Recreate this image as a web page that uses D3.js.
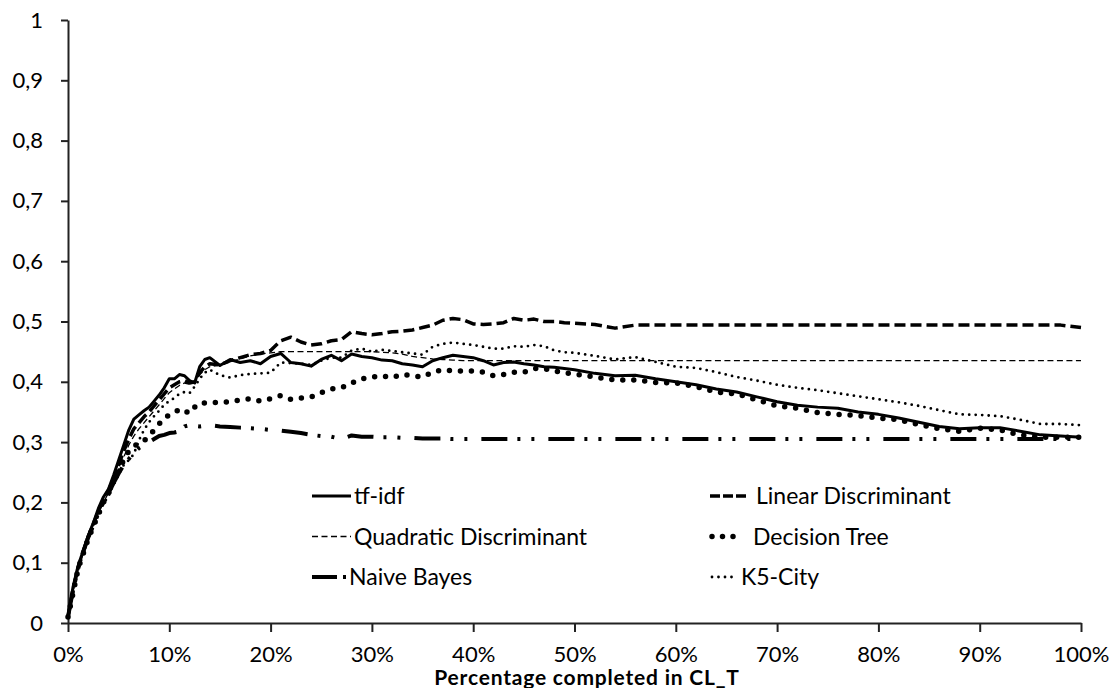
<!DOCTYPE html>
<html>
<head>
<meta charset="utf-8">
<script src="https://d3js.org/d3.v7.min.js"></script>
<style>
  body { margin: 0; background: #fff; }
  text { font-family: Lato, "Open Sans", sans-serif; fill: #000; }
</style>
</head>
<body>
<div id="chart"></div>
<script>

// x positions (percentage completed in CL_T), shared by every series
var pct = [0,0.5,1,1.5,2,2.5,3,3.5,4,4.5,5,5.5,6,6.5,7,7.5,8,8.5,9,9.5,10,10.5,11,11.5,12,12.5,13,13.5,14,
  15,16,17,18,19,20,21,22,23,24,25,26,27,28,29,30,31,32,33,34,35,36,37,38,39,40,41,42,43,44,45,46,47,48,49,50,
  52,54,56,58,60,62,64,66,68,70,72,74,76,78,80,82,84,86,88,90,92,94,96,98,100];

var tfidf = [0.01,0.06,0.095,0.12,0.145,0.166,0.19,0.209,0.222,0.245,0.27,0.295,0.32,0.338,0.345,0.352,0.358,0.368,0.378,0.39,0.405,0.405,0.412,0.41,0.402,0.398,0.425,0.437,0.44,
  0.427,0.437,0.432,0.435,0.43,0.442,0.447,0.432,0.43,0.426,0.437,0.444,0.435,0.446,0.442,0.44,0.436,0.435,0.43,0.428,0.425,0.435,0.44,0.444,0.442,0.44,0.435,0.428,0.432,0.433,0.43,0.428,0.425,0.424,0.422,0.42,
  0.414,0.41,0.411,0.405,0.4,0.395,0.388,0.383,0.375,0.367,0.361,0.358,0.356,0.35,0.346,0.34,0.333,0.326,0.322,0.324,0.324,0.318,0.312,0.31,0.308];

var linearDisc = [0.01,0.055,0.092,0.118,0.143,0.164,0.186,0.205,0.22,0.24,0.262,0.285,0.305,0.322,0.332,0.342,0.35,0.36,0.37,0.38,0.39,0.395,0.4,0.402,0.398,0.4,0.415,0.425,0.43,
  0.428,0.435,0.44,0.445,0.447,0.452,0.468,0.474,0.466,0.461,0.463,0.468,0.47,0.483,0.48,0.478,0.48,0.483,0.484,0.486,0.49,0.494,0.502,0.505,0.503,0.496,0.495,0.496,0.498,0.505,0.502,0.504,0.5,0.5,0.498,0.497,
  0.495,0.489,0.494,0.494,0.494,0.494,0.494,0.494,0.494,0.494,0.494,0.494,0.494,0.494,0.494,0.494,0.494,0.494,0.494,0.494,0.494,0.494,0.494,0.494,0.49];

var quadDisc = [0.01,0.052,0.088,0.115,0.14,0.16,0.182,0.2,0.216,0.235,0.255,0.275,0.295,0.31,0.322,0.332,0.342,0.352,0.362,0.372,0.382,0.388,0.394,0.398,0.396,0.4,0.412,0.42,0.425,
  0.428,0.433,0.438,0.443,0.446,0.448,0.45,0.45,0.45,0.45,0.45,0.45,0.45,0.45,0.45,0.45,0.449,0.448,0.446,0.442,0.44,0.438,0.437,0.436,0.435,0.435,0.435,0.435,0.435,0.435,0.435,0.435,0.435,0.435,0.435,0.435,
  0.435,0.435,0.435,0.435,0.435,0.435,0.435,0.435,0.435,0.435,0.435,0.435,0.435,0.435,0.435,0.435,0.435,0.435,0.435,0.435,0.435,0.435,0.435,0.435,0.435];

var decisionTree = [0.01,0.05,0.09,0.115,0.14,0.16,0.18,0.2,0.215,0.235,0.255,0.27,0.285,0.292,0.3,0.302,0.31,0.32,0.33,0.34,0.345,0.348,0.355,0.352,0.348,0.358,0.365,0.365,0.365,
  0.366,0.367,0.37,0.372,0.368,0.372,0.377,0.371,0.373,0.375,0.382,0.388,0.39,0.398,0.405,0.408,0.41,0.407,0.412,0.41,0.408,0.416,0.42,0.418,0.418,0.418,0.416,0.41,0.412,0.416,0.416,0.422,0.422,0.418,0.415,0.413,
  0.408,0.403,0.403,0.399,0.398,0.392,0.383,0.38,0.37,0.36,0.356,0.349,0.346,0.344,0.34,0.337,0.329,0.322,0.318,0.323,0.32,0.312,0.308,0.308,0.308];

var naiveBayes = [0.01,0.055,0.09,0.118,0.142,0.162,0.182,0.2,0.215,0.232,0.248,0.262,0.272,0.282,0.29,0.295,0.3,0.305,0.31,0.312,0.315,0.316,0.318,0.326,0.328,0.327,0.326,0.327,0.328,
  0.326,0.325,0.324,0.323,0.322,0.32,0.319,0.317,0.315,0.312,0.31,0.309,0.305,0.311,0.309,0.309,0.308,0.308,0.307,0.307,0.306,0.306,0.306,0.305,0.305,0.305,0.305,0.305,0.305,0.305,0.305,0.305,0.305,0.305,0.305,0.305,
  0.305,0.305,0.305,0.305,0.305,0.305,0.305,0.305,0.305,0.305,0.305,0.305,0.305,0.305,0.305,0.305,0.305,0.305,0.305,0.305,0.305,0.305,0.305,0.305,0.305];

var k5City = [0.01,0.05,0.09,0.115,0.14,0.16,0.18,0.198,0.21,0.23,0.245,0.262,0.27,0.28,0.303,0.32,0.333,0.343,0.352,0.362,0.368,0.373,0.38,0.383,0.381,0.392,0.405,0.415,0.42,
  0.411,0.407,0.411,0.413,0.414,0.415,0.432,0.431,0.43,0.428,0.435,0.44,0.44,0.452,0.455,0.45,0.453,0.451,0.449,0.447,0.445,0.458,0.463,0.465,0.463,0.461,0.458,0.455,0.455,0.459,0.458,0.461,0.459,0.452,0.449,0.448,
  0.443,0.437,0.441,0.433,0.425,0.423,0.416,0.408,0.402,0.395,0.39,0.386,0.381,0.376,0.371,0.366,0.36,0.353,0.346,0.345,0.343,0.337,0.33,0.33,0.328];

var yTicks = [0,0.1,0.2,0.3,0.4,0.5,0.6,0.7,0.8,0.9,1];
var xTicks = [0,10,20,30,40,50,60,70,80,90,100];

// set the dimensions and margins of the graph
var margin = {top: 20, right: 30, bottom: 65, left: 68},
    width = 1111 - margin.left - margin.right,
    height = 688 - margin.top - margin.bottom;

var svg = d3.select("#chart")
  .append("svg")
    .attr("width", width + margin.left + margin.right)
    .attr("height", height + margin.top + margin.bottom)
  .append("g")
    .attr("transform", "translate(" + margin.left + "," + margin.top + ")");

var x = d3.scaleLinear().domain([0, 100]).range([0, width]);
var y = d3.scaleLinear().domain([0, 1]).range([height, 0]);

// axes
var xAxis = svg.append("g")
  .attr("transform", "translate(0," + height + ")")
  .call(d3.axisBottom(x).tickValues(xTicks).tickSize(9).tickSizeOuter(0).tickPadding(14)
    .tickFormat(function(d) { return d + "%"; }));

var yAxis = svg.append("g")
  .call(d3.axisLeft(y).tickValues(yTicks).tickSize(7).tickSizeOuter(0).tickPadding(18)
    .tickFormat(function(d) { return String(d).replace(".", ","); }));

[xAxis, yAxis].forEach(function(a) {
  a.selectAll("path, line").attr("stroke", "#222").attr("stroke-width", 2);
  a.selectAll("text").style("font-size", "22px").attr("fill", "#000");
});

svg.append("text")
  .attr("x", 519)
  .attr("y", height + 62)
  .attr("text-anchor", "middle")
  .style("font-size", "21px")
  .style("font-weight", "bold")
  .style("letter-spacing", "0.8px")
  .text("Percentage completed in CL_T");

// series styles
var series = [
  {name: "tf-idf",                 values: tfidf,        width: 3,   dash: null,               cap: "butt"},
  {name: "Linear Discriminant",    values: linearDisc,   width: 3.5, dash: "11,5",             cap: "butt"},
  {name: "Quadratic Discriminant", values: quadDisc,     width: 1.3, dash: "6,3.5",            cap: "butt"},
  {name: "Decision Tree",          values: decisionTree, width: 5.5, dash: "0,11",             cap: "round"},
  {name: "Naive Bayes",            values: naiveBayes,   width: 4,   dash: "26,10,3,11,3,14",  cap: "butt"},
  {name: "K5-City",                values: k5City,       width: 2.8, dash: "0,6.5",            cap: "round"}
];

var line = d3.line()
  .x(function(d, i) { return x(pct[i]); })
  .y(function(d) { return y(d); });

svg.append("g")
  .selectAll("path")
  .data(series)
  .enter().append("path")
    .attr("d", function(s) { return line(s.values); })
    .attr("fill", "none")
    .attr("stroke", "#000")
    .attr("stroke-width", function(s) { return s.width; })
    .attr("stroke-dasharray", function(s) { return s.dash; })
    .attr("stroke-linecap", function(s) { return s.cap; })
    .attr("stroke-linejoin", "round");

// legend: two columns, three rows
var legendDash = {"Naive Bayes": "25,6,3,30", "Linear Discriminant": "10,3", "Decision Tree": "0,10.5"};
var legend = svg.append("g")
  .selectAll("g")
  .data(series)
  .enter().append("g")
    .attr("transform", function(s, i) {
      var col = i % 2, row = Math.floor(i / 2);
      return "translate(" + (col === 0 ? 244 : 642) + "," + (476 + row * 40.5) + ")";
    });

legend.append("line")
  .attr("x1", function(s) { return s.cap === "round" ? 2 : 0; })
  .attr("x2", function(s) { return s.name === "Naive Bayes" ? 35 : (s.cap === "round" ? 27 : 39); })
  .attr("stroke", "#000")
  .attr("stroke-width", function(s) { return s.width; })
  .attr("stroke-dasharray", function(s) { return legendDash[s.name] || s.dash; })
  .attr("stroke-linecap", function(s) { return s.cap; });

legend.append("text")
  .attr("x", function(s) {
    if (s.name === "Naive Bayes") return 37;
    if (s.name === "Decision Tree") return 43;
    if (s.name === "K5-City") return 31;
    if (s.name === "Linear Discriminant") return 46;
    return 42;
  })
  .attr("y", 8)
  .style("font-size", "23px")
  .text(function(s) { return s.name; });

</script>
</body>
</html>
